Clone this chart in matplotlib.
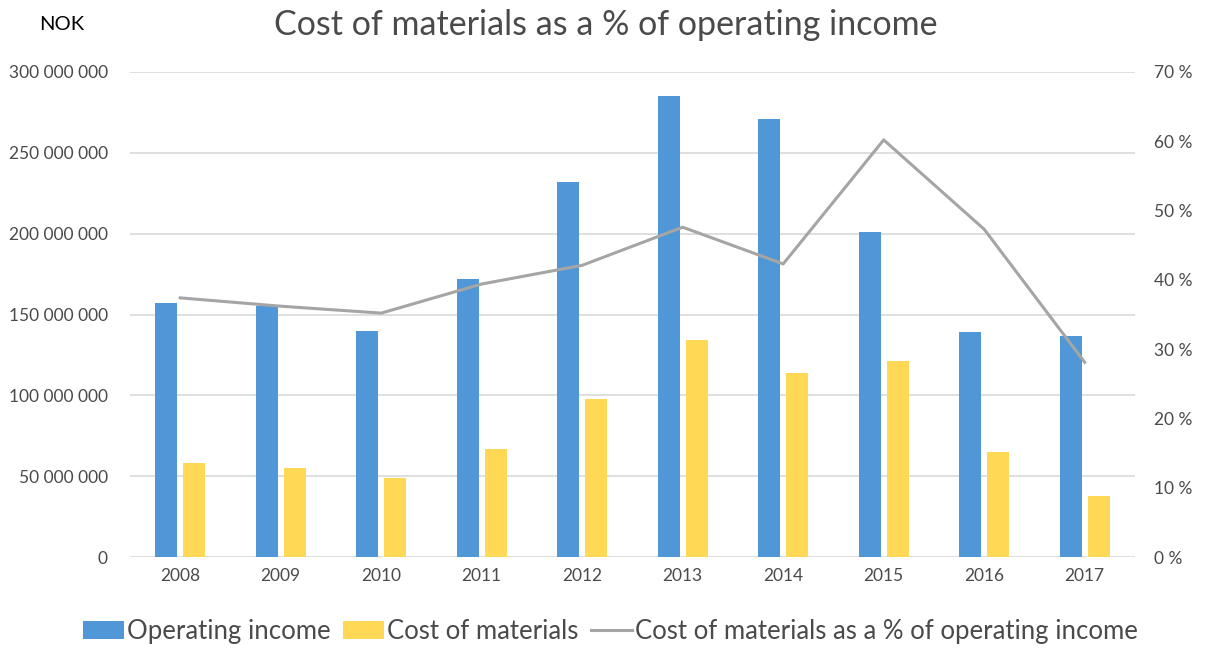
import matplotlib.pyplot as plt
import numpy as np

plt.rcParams['font.family'] = ['Lato', 'DejaVu Sans']

years = ['2008', '2009', '2010', '2011', '2012', '2013', '2014', '2015', '2016', '2017']
operating_income = [157e6, 155e6, 140e6, 172e6, 232e6, 285e6, 271e6, 201e6, 139e6, 137e6]
cost_of_materials = [58e6, 55e6, 49e6, 67e6, 98e6, 134e6, 114e6, 121e6, 65e6, 38e6]
cost_pct = [37.4, 36.2, 35.2, 39.4, 42.1, 47.6, 42.3, 60.2, 47.3, 28.1]

BLUE = '#4f97d7'
YELLOW = '#ffd955'
GREY_LINE = '#a5a5a5'
TEXT = '#4a4a4a'
GRID = '#d9d9d9'

fig = plt.figure(figsize=(12.11, 6.48), dpi=100)
ax = fig.add_axes([0.1073, 0.1404, 0.8299, 0.7485])
ax2 = ax.twinx()

x = np.arange(len(years))
w = 0.22
ax.bar(x - 0.14, operating_income, w, color=BLUE, label='Operating income', zorder=2)
ax.bar(x + 0.14, cost_of_materials, w, color=YELLOW, label='Cost of materials', zorder=2)
ax2.plot(x, cost_pct, color=GREY_LINE, lw=2.2, label='Cost of materials as a % of operating income')

ax.set_xlim(-0.5, len(years) - 0.5)
ax.set_ylim(0, 300e6)
ax.set_yticks(np.arange(0, 300e6 + 1, 50e6))
ax.set_yticklabels(['{:,.0f}'.format(v).replace(',', ' ') for v in np.arange(0, 300e6 + 1, 50e6)])
ax.set_xticks(x)
ax.set_xticklabels(years)
ax2.set_ylim(0, 70)
ax2.set_yticks(np.arange(0, 71, 10))
ax2.set_yticklabels(['%d %%' % v for v in range(0, 71, 10)])

ax.grid(axis='y', color=GRID, lw=1.2, zorder=0)
for a in (ax, ax2):
    for s in a.spines.values():
        s.set_visible(False)
    a.tick_params(length=0, colors=TEXT, labelsize=12.5)
ax.tick_params(axis='y', pad=16)
ax.tick_params(axis='x', pad=8)
ax2.tick_params(axis='y', pad=14)

fig.text(0.5, 0.962, 'Cost of materials as a % of operating income', ha='center', va='center',
         fontsize=24.5, color=TEXT)
fig.text(0.051, 0.962, 'NOK', ha='center', va='center', fontsize=14.5, color='black')

h1, l1 = ax.get_legend_handles_labels()
h2, l2 = ax2.get_legend_handles_labels()
fig.legend(h1 + h2, l1 + l2, loc='center', bbox_to_anchor=(0.504, 0.026), ncol=3, frameon=False,
           fontsize=18.5, labelcolor=TEXT, handlelength=1.6, handletextpad=0.1, columnspacing=0.5)

fig.savefig('out.png', dpi=100)
